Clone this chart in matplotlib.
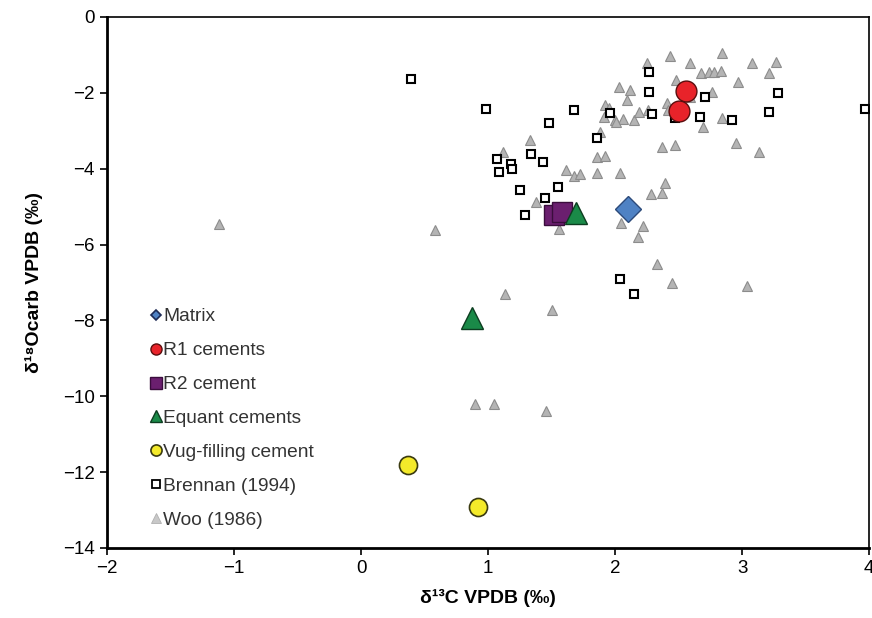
import matplotlib.pyplot as plt

plt.rcParams['font.family'] = ['Liberation Sans', 'DejaVu Sans']

# Woo (1986)
woo_x = [-1.12, 0.58, 1.12, 1.33, 1.61, 1.68, 1.72, 1.38, 1.56, 1.88, 1.86, 1.92, 1.86, 2.04,
         2.03, 2.12, 2.09, 1.92, 1.95, 1.91, 2.00, 2.06, 2.01, 2.15, 2.19, 2.26, 2.41, 2.42,
         2.43, 2.25, 2.59, 2.84, 3.08, 3.27, 3.21, 2.68, 2.74, 2.78, 2.83, 2.97, 2.48, 2.76,
         2.59, 2.84, 2.69, 2.37, 2.47, 2.95, 3.13, 2.39, 2.37, 2.28, 2.05, 2.22, 2.18, 2.33,
         2.45, 3.04, 1.13, 1.50, 0.90, 1.05, 1.46]
woo_y = [-5.45, -5.62, -3.56, -3.24, -4.03, -4.20, -4.15, -4.88, -5.58, -3.03, -3.69, -3.66, -4.11, -4.11,
         -1.85, -1.92, -2.19, -2.32, -2.40, -2.64, -2.72, -2.69, -2.77, -2.72, -2.50, -2.45, -2.27, -2.45,
         -1.03, -1.22, -1.20, -0.95, -1.22, -1.18, -1.48, -1.48, -1.44, -1.44, -1.42, -1.71, -1.66, -1.98,
         -2.10, -2.66, -2.90, -3.43, -3.37, -3.32, -3.56, -4.38, -4.64, -4.67, -5.43, -5.50, -5.80, -6.51,
         -7.01, -7.09, -7.30, -7.72, -10.2, -10.2, -10.39]

# Brennan (1994)
bren_x = [0.39, 0.98, 1.68, 1.48, 1.86, 1.96, 1.07, 1.09, 1.18, 1.19, 1.34, 1.43, 1.25, 1.55,
          1.45, 1.29, 1.51, 2.27, 2.27, 2.29, 2.47, 2.71, 2.67, 2.92, 3.21, 3.28, 3.97, 2.04, 2.15]
bren_y = [-1.63, -2.43, -2.45, -2.79, -3.19, -2.53, -3.74, -4.09, -3.88, -4.00, -3.61, -3.82, -4.56, -4.48,
          -4.77, -5.22, -5.33, -1.45, -1.98, -2.56, -2.66, -2.10, -2.64, -2.72, -2.50, -2.00, -2.43, -6.91, -7.30]

matrix_x = [2.10]
matrix_y = [-5.05]
r1_x = [2.56, 2.50]
r1_y = [-1.95, -2.48]
r2_x = [1.52, 1.58]
r2_y = [-5.22, -5.15]
equant_x = [1.69, 0.87]
equant_y = [-5.17, -7.94]
vug_x = [0.37, 0.92]
vug_y = [-11.81, -12.92]

fig = plt.figure(figsize=(8.72, 6.18), dpi=100)
ax = fig.add_axes([0.1227, 0.1133, 0.874, 0.8592])

ax.plot(woo_x, woo_y, ls='none', marker='^', ms=7, mfc='#b4b4b4', mec='#8c8c8c', mew=0.8, zorder=2)
ax.plot(bren_x, bren_y, ls='none', marker='s', ms=6, mfc='white', mec='black', mew=1.5, zorder=3)
ax.plot(matrix_x, matrix_y, ls='none', marker='D', ms=13, mfc='#4f82c4', mec='#2c4a7a', mew=1, zorder=4)
ax.plot(r1_x, r1_y, ls='none', marker='o', ms=15, mfc='#e8232a', mec='#5a0e0e', mew=1, zorder=4)
ax.plot(r2_x, r2_y, ls='none', marker='s', ms=14, mfc='#6b1f6f', mec='#3a0d3c', mew=1, zorder=4)
ax.plot(equant_x, equant_y, ls='none', marker='^', ms=16, mfc='#1a8a48', mec='#0c3d20', mew=1, zorder=4)
ax.plot(vug_x, vug_y, ls='none', marker='o', ms=13, mfc='#f4ea2a', mec='#3a3a10', mew=1.2, zorder=4)

# legend (small markers)
h = []
h.append(ax.plot([], [], ls='none', marker='D', ms=5, mfc='#4f82c4', mec='#1c2a55', mew=1.2, label='Matrix')[0])
h.append(ax.plot([], [], ls='none', marker='o', ms=8, mfc='#e8232a', mec='#5a0e0e', mew=1, label='R1 cements')[0])
h.append(ax.plot([], [], ls='none', marker='s', ms=8, mfc='#6b1f6f', mec='#3a0d3c', mew=1, label='R2 cement')[0])
h.append(ax.plot([], [], ls='none', marker='^', ms=8, mfc='#1a8a48', mec='#0c3d20', mew=1, label='Equant cements')[0])
h.append(ax.plot([], [], ls='none', marker='o', ms=8, mfc='#f4ea2a', mec='#3a3a10', mew=1.2, label='Vug-filling cement')[0])
h.append(ax.plot([], [], ls='none', marker='s', ms=6, mfc='white', mec='black', mew=1.3, label='Brennan (1994)')[0])
h.append(ax.plot([], [], ls='none', marker='^', ms=7, mfc='#c8c8c8', mec='#b0b0b0', mew=0.6, label='Woo (1986)')[0])
leg = ax.legend(handles=h, loc='upper left', bbox_to_anchor=(0.045, 0.47), frameon=False,
                fontsize=13.8, handlelength=0.5, handletextpad=0.15, labelspacing=0.86, borderpad=0)
for t in leg.get_texts():
    t.set_color('#333333')

ax.set_xlim(-2, 4)
ax.set_ylim(-14, 0)
ax.set_xticks([-2, -1, 0, 1, 2, 3, 4])
ax.set_yticks([0, -2, -4, -6, -8, -10, -12, -14])
ax.tick_params(direction='out', length=5, width=1.2, labelsize=13.5, colors='black', pad=4)
for s in ['left', 'bottom']:
    ax.spines[s].set_linewidth(2)
for s in ['top', 'right']:
    ax.spines[s].set_linewidth(1.2)

ax.set_xlabel('δ¹³C VPDB (‰)', fontsize=14, fontweight='bold', labelpad=8)
ax.set_ylabel('δ¹⁸Ocarb VPDB (‰)', fontsize=14, fontweight='bold', labelpad=14)

fig.savefig('out.png', dpi=100)
